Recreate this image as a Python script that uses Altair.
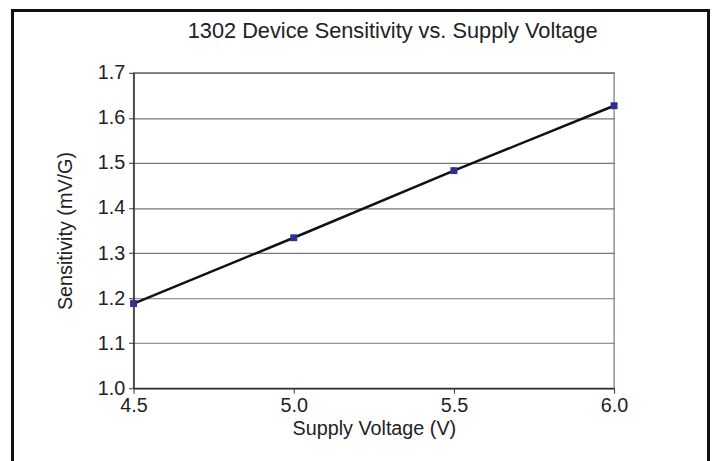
import altair as alt
import pandas as pd

voltage = [4.5, 5.0, 5.5, 6.0]
sensitivity = [1.188, 1.334, 1.483, 1.627]

df = pd.DataFrame({"Supply Voltage (V)": voltage, "Sensitivity (mV/G)": sensitivity})

FONT = "Liberation Sans"

x = alt.X("Supply Voltage (V):Q",
          scale=alt.Scale(domain=[4.5, 6.0], nice=False, zero=False),
          axis=alt.Axis(values=[4.5, 5.0, 5.5, 6.0], format=".1f", grid=False,
                        labelFlush=False,
                        tickSize=5, labelPadding=3, titlePadding=3,
                        domainColor="#333333", tickColor="#333333", domainWidth=1.5,
                        labelFontSize=20, titleFontSize=20, titleFontWeight="normal",
                        labelColor="#222222", titleColor="#222222",
                        labelFont=FONT, titleFont=FONT))
y = alt.Y("Sensitivity (mV/G):Q",
          scale=alt.Scale(domain=[1.0, 1.7], nice=False, zero=False),
          axis=alt.Axis(values=[1.0, 1.1, 1.2, 1.3, 1.4, 1.5, 1.6, 1.7], format=".1f",
                        grid=True, gridColor="#777777", gridWidth=1.2,
                        tickSize=5, labelPadding=4, titlePadding=22,
                        domainColor="#333333", tickColor="#333333", domainWidth=1.5,
                        labelFontSize=20, titleFontSize=20, titleFontWeight="normal",
                        labelColor="#222222", titleColor="#222222",
                        labelFont=FONT, titleFont=FONT))

base = alt.Chart(df)

line = base.mark_line(color="#111111", strokeWidth=2.5).encode(x=x, y=y)
pts = base.mark_point(shape="square", filled=True, size=49, color="#2E3192", opacity=1).encode(x=x, y=y)

# outer frame of the figure (decorative)
frame = base.mark_rect(fill=None, stroke="#111111", strokeWidth=2.5, clip=False).encode(
    x=alt.value(-122.5), x2=alt.value(581.5), y=alt.value(-63), y2=alt.value(400)
)

chart = alt.layer(line, pts, frame).properties(
    width=486, height=319,
    title=alt.TitleParams("1302 Device Sensitivity vs. Supply Voltage", font=FONT,
                          fontSize=22, fontWeight="normal", color="#222222",
                          anchor="middle", baseline="alphabetic", dx=19, dy=65, offset=14),
    autosize=alt.AutoSizeParams(type="none"),
    padding={"left": 127, "top": 63, "right": 98, "bottom": 71},
).configure_view(stroke="#8c949c", strokeWidth=1.5)

chart.save("out.html", embed_options={"renderer": "svg", "actions": False})
